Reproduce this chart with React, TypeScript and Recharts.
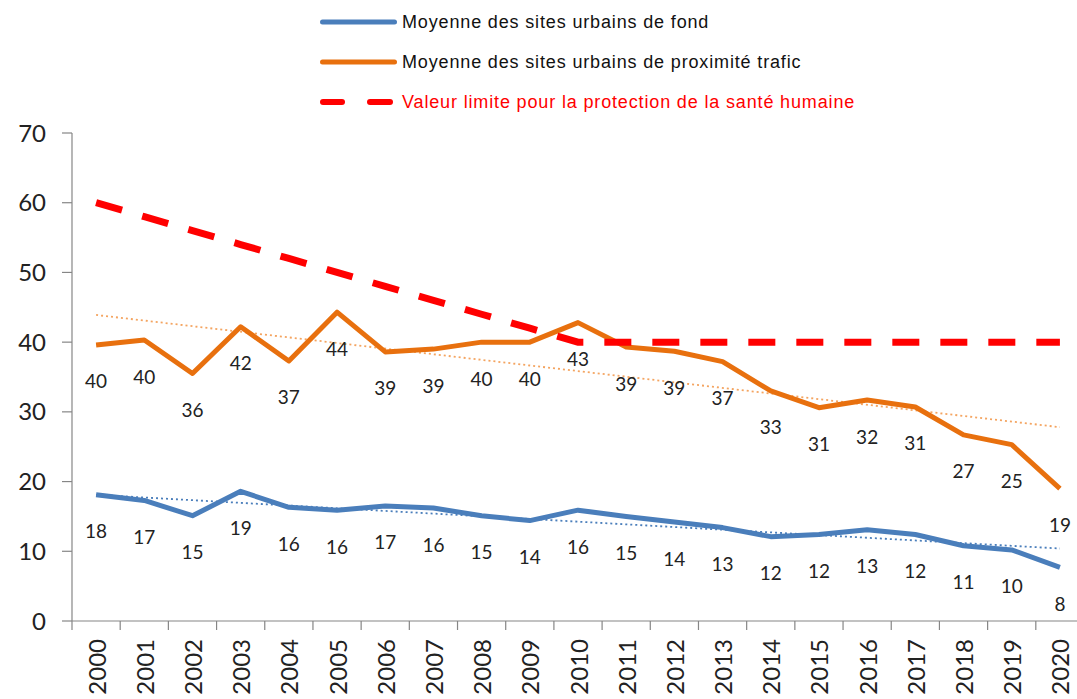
import React from "react";
import { LineChart, Line, XAxis, YAxis, Legend, LabelList } from "recharts";

const years = [2000, 2001, 2002, 2003, 2004, 2005, 2006, 2007, 2008, 2009, 2010, 2011, 2012, 2013, 2014, 2015, 2016, 2017, 2018, 2019, 2020];
const fondValues = [18.1, 17.3, 15.1, 18.6, 16.3, 15.9, 16.5, 16.2, 15.1, 14.4, 15.9, 15.0, 14.2, 13.4, 12.1, 12.4, 13.1, 12.4, 10.8, 10.2, 7.7];
const traficValues = [39.6, 40.3, 35.5, 42.2, 37.3, 44.3, 38.6, 39.0, 40.0, 40.0, 42.8, 39.3, 38.7, 37.2, 33.0, 30.6, 31.7, 30.7, 26.7, 25.3, 19.0];
const limitValues = [60, 58, 56, 54, 52, 50, 48, 46, 44, 42, 40, 40, 40, 40, 40, 40, 40, 40, 40, 40, 40];
const fondTrendEnds = [18.1, 10.4];
const traficTrendEnds = [43.9, 27.8];
const yTicks = [0, 10, 20, 30, 40, 50, 60, 70];
const legendLabels = [
  "Moyenne des sites urbains de fond",
  "Moyenne des sites urbains de proximité trafic",
  "Valeur limite pour la protection de la santé humaine",
];

const BLUE = "#4a7ebb";
const ORANGE = "#e8700e";
const RED = "#ff0000";
const FONT = "Lato, 'Liberation Sans', sans-serif";
const LEGEND_FONT = "'Liberation Sans', Arial, sans-serif";

const data = years.map((year, i) => ({
  year,
  fond: fondValues[i],
  trafic: traficValues[i],
  limite: limitValues[i],
  fondTrend: i === 0 ? fondTrendEnds[0] : i === years.length - 1 ? fondTrendEnds[1] : null,
  traficTrend: i === 0 ? traficTrendEnds[0] : i === years.length - 1 ? traficTrendEnds[1] : null,
}));

const xTicks: number[] = years.flatMap((y) => [y - 0.5, y]).concat([years[years.length - 1] + 0.5]);

const XTick = (props: any) => {
  const { x, y, payload } = props;
  const v = payload.value;
  if (!Number.isInteger(v)) {
    return <line x1={x} x2={x} y1={y} y2={y + 9} stroke="#868686" strokeWidth={1.2} />;
  }
  const ty = y + 18;
  return (
    <text
      x={x}
      y={ty}
      transform={`rotate(-90 ${x} ${ty})`}
      textAnchor="end"
      dominantBaseline="central"
      fontSize={24}
      fontFamily={FONT}
      fill="#222"
    >
      {v}
    </text>
  );
};

const makeLabel = (dy: number) => (props: any) => {
  const x = props.x ?? props.viewBox?.x;
  const y = props.y ?? props.viewBox?.y;
  if (props.value == null || x == null || y == null) return null;
  return (
    <text x={x} y={y + dy} textAnchor="middle" dominantBaseline="central" fontSize={19} fontFamily={FONT} fill="#222">
      {Math.round(props.value)}
    </text>
  );
};

const LegendContent = () => (
  <div style={{ fontFamily: LEGEND_FONT, fontSize: 18, letterSpacing: 0.85 }}>
    {legendLabels.map((label, i) => (
      <div key={label} style={{ display: "flex", alignItems: "center", height: 40 }}>
        <svg width={80} height={10} style={{ marginRight: 4, flexShrink: 0 }}>
          {i === 2 ? (
            <>
              <line x1={5} x2={24} y1={5} y2={5} stroke={RED} strokeWidth={6} strokeLinecap="round" />
              <line x1={52} x2={72} y1={5} y2={5} stroke={RED} strokeWidth={6} strokeLinecap="round" />
            </>
          ) : (
            <line x1={4.5} x2={76.5} y1={5} y2={5} stroke={i === 0 ? BLUE : ORANGE} strokeWidth={5} strokeLinecap="round" />
          )}
        </svg>
        <span style={{ color: i === 2 ? RED : "#111", whiteSpace: "nowrap" }}>{label}</span>
      </div>
    ))}
  </div>
);

export default function App() {
  return (
    <div style={{ position: "fixed", left: 0, top: 0, width: 1077, height: 699, overflow: "hidden", background: "#fff" }}>
      <LineChart width={1100} height={699} data={data} margin={{ top: 133, right: 16, bottom: 8, left: 0 }}>
        <XAxis
          dataKey="year"
          type="number"
          domain={[1999.5, 2020.5]}
          ticks={xTicks}
          interval={0}
          tickLine={false}
          tickSize={0}
          tickMargin={0}
          axisLine={{ stroke: "#868686", strokeWidth: 1.2 }}
          tick={<XTick />}
          height={70}
        />
        <YAxis
          domain={[0, 70]}
          ticks={yTicks}
          interval={0}
          width={72}
          tickSize={10}
          tickMargin={16}
          axisLine={{ stroke: "#868686", strokeWidth: 1.2 }}
          tickLine={{ stroke: "#868686", strokeWidth: 1.2 }}
          tick={{ fontSize: 24, fontFamily: FONT, fill: "#222" }}
        />
        <Legend
          verticalAlign="middle"
          align="center"
          layout="horizontal"
          content={<LegendContent />}
          wrapperStyle={{ top: 2, left: 318, width: 700 }}
        />
        <Line
          dataKey="traficTrend"
          stroke="#f4a460"
          strokeWidth={1.8}
          strokeDasharray="2 3"
          dot={false}
          activeDot={false}
          connectNulls
          isAnimationActive={false}
          legendType="none"
        />
        <Line
          dataKey="fondTrend"
          stroke={BLUE}
          strokeWidth={1.8}
          strokeDasharray="2 3"
          dot={false}
          activeDot={false}
          connectNulls
          isAnimationActive={false}
          legendType="none"
        />
        <Line
          dataKey="fond"
          stroke={BLUE}
          strokeWidth={5}
          strokeLinejoin="round"
          dot={false}
          activeDot={false}
          isAnimationActive={false}
        >
          <LabelList dataKey="fond" content={makeLabel(36)} />
        </Line>
        <Line
          dataKey="trafic"
          stroke={ORANGE}
          strokeWidth={5}
          strokeLinejoin="round"
          dot={false}
          activeDot={false}
          isAnimationActive={false}
        >
          <LabelList dataKey="trafic" content={makeLabel(36)} />
        </Line>
        <Line
          dataKey="limite"
          stroke={RED}
          strokeWidth={7}
          strokeDasharray="27 21"
          dot={false}
          activeDot={false}
          isAnimationActive={false}
        />
      </LineChart>
    </div>
  );
}
